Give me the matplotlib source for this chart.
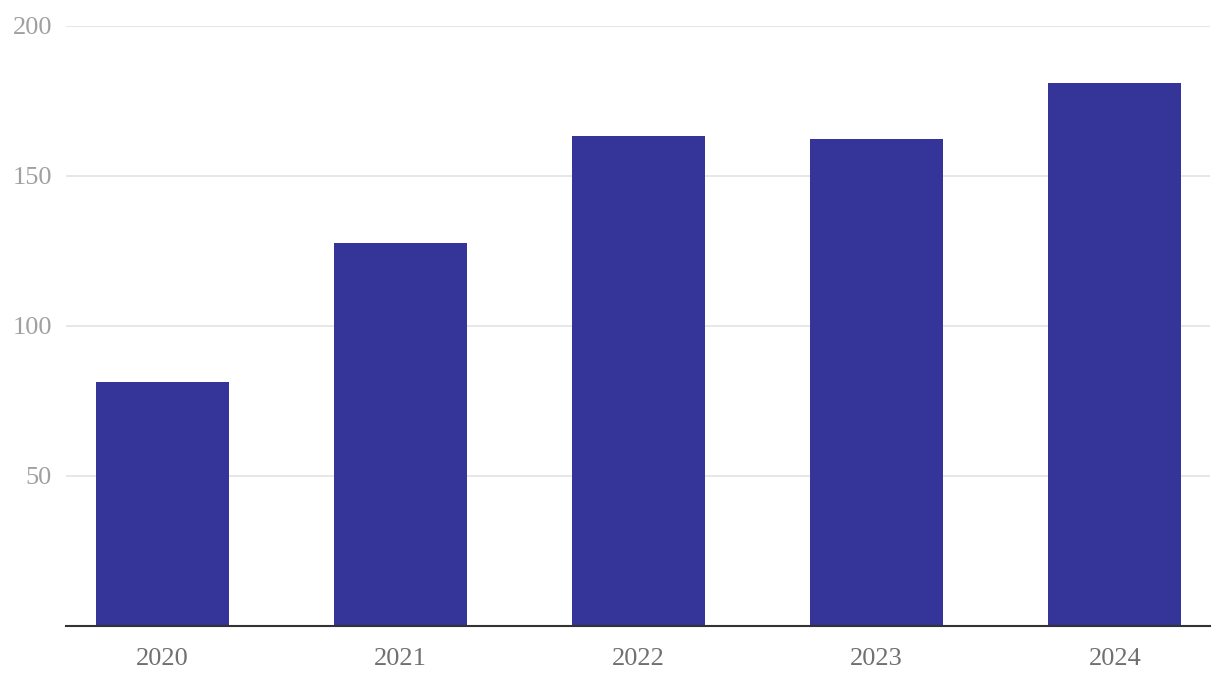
import matplotlib.pyplot as plt

years = ['2020', '2021', '2022', '2023', '2024']
values = [81.3, 127.7, 163.3, 162.3, 181.0]
y_ticks = [50, 100, 150, 200]

plt.rcParams['font.family'] = ['Liberation Serif', 'DejaVu Serif']

fig = plt.figure(figsize=(12.2, 6.86), dpi=100)
ax = fig.add_axes([66 / 1220, 60 / 686, 1144 / 1220, 600 / 686])

x = range(len(years))
ax.bar(x, values, width=0.56, color='#343499', zorder=2)

ax.set_xlim(-0.405, 4.40)
ax.set_ylim(0, 200)
ax.set_xticks(list(x))
ax.set_xticklabels(years, fontsize=19, color='#707070')
ax.set_yticks(y_ticks)
ax.set_yticklabels([str(t) for t in y_ticks], fontsize=19, color='#a0a0a0')

ax.grid(axis='y', color='#e3e3e3', linewidth=1.2, zorder=0)
for s in ['top', 'right', 'left']:
    ax.spines[s].set_visible(False)
ax.spines['bottom'].set_color('#333333')
ax.spines['bottom'].set_linewidth(1.5)
ax.tick_params(axis='both', length=0)
ax.tick_params(axis='x', pad=16)
ax.tick_params(axis='y', pad=10)

fig.savefig('out.png', dpi=100)
